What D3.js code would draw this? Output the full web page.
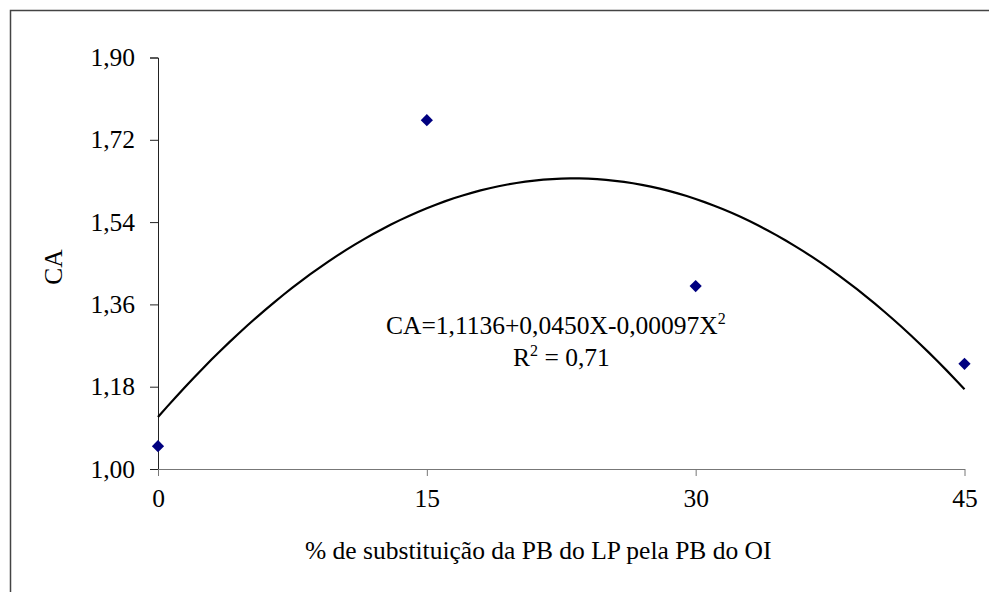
<!DOCTYPE html>
<html>
<head>
<meta charset="utf-8">
<script src="https://cdn.jsdelivr.net/npm/d3@7"></script>
<style>
  body { margin: 0; background: #fff; font-family: "Times New Roman", serif; }
  svg text { font-family: "Times New Roman", "Liberation Serif", serif !important; }
</style>
</head>
<body>
<div id="wrap"></div>
<script>
// observed points
var doses = [0, 15, 30, 45];
var caValues = [1.05, 1.763, 1.40, 1.23];
var yTicks = [1.00, 1.18, 1.36, 1.54, 1.72, 1.90];
var xTicks = [0, 15, 30, 45];
// quadratic trend shown on the chart: CA = b0 + b1 X + b2 X^2
var coef = [1.1136, 0.0450, -0.00097];

var fs = 25.5;

var svg = d3.select("#wrap").append("svg")
    .attr("width", 989)
    .attr("height", 592)
    .style("display", "block");

// outer frame (runs off the right and bottom edges)
svg.append("rect")
    .attr("x", 10.5).attr("y", 10.5)
    .attr("width", 1000).attr("height", 700)
    .attr("fill", "none").attr("stroke", "#444").attr("stroke-width", 1.5);

var x = d3.scaleLinear().domain([0, 45]).range([158, 964.5]);
var y = d3.scaleLinear().domain([1.00, 1.90]).range([469, 57.5]);

var fmt = function(d) { return d3.format(".2f")(d).replace(".", ","); };

// y axis
var yAxis = svg.append("g")
    .attr("transform", "translate(" + x(0) + ",0)")
    .call(d3.axisLeft(y).tickValues(yTicks).tickFormat(fmt).tickSize(8).tickPadding(15))
    .attr("font-family", "Times New Roman")
    .attr("font-size", fs);
yAxis.select(".domain").attr("stroke", "#222");
yAxis.selectAll(".tick line").attr("stroke", "#222");
yAxis.selectAll("text").attr("fill", "#000");

// x axis
var xAxis = svg.append("g")
    .attr("transform", "translate(0," + y(1.00) + ")")
    .call(d3.axisBottom(x).tickValues(xTicks).tickFormat(d3.format("d")).tickSize(7).tickSizeOuter(0).tickPadding(13))
    .attr("font-family", "Times New Roman")
    .attr("font-size", fs);
xAxis.select(".domain").attr("stroke", "#777");
xAxis.selectAll(".tick line").attr("stroke", "#777");
xAxis.selectAll("text").attr("fill", "#000");

// trend curve
var curveX = d3.range(0, 45.01, 0.5);
var line = d3.line()
    .x(function(d) { return x(d); })
    .y(function(d) { return y(coef[0] + coef[1] * d + coef[2] * d * d); });
svg.append("path")
    .datum(curveX)
    .attr("d", line)
    .attr("fill", "none")
    .attr("stroke", "#000")
    .attr("stroke-width", 2.2);

// points
svg.selectAll(".pt")
    .data(doses)
    .enter().append("path")
    .attr("class", "pt")
    .attr("d", d3.symbol().type(d3.symbolDiamond2).size(95))
    .attr("transform", function(d, i) { return "translate(" + x(d) + "," + y(caValues[i]) + ")"; })
    .attr("fill", "#000080");

// axis titles
svg.append("text")
    .attr("transform", "translate(62,267) rotate(-90)")
    .attr("text-anchor", "middle")
    .attr("font-family", "Times New Roman")
    .attr("font-size", fs)
    .text("CA");

svg.append("text")
    .attr("x", 305).attr("y", 559)
    .attr("font-family", "Times New Roman")
    .attr("font-size", fs)
    .text("% de substituição da PB do LP pela PB do OI");

// equation
var eq = svg.append("text")
    .attr("x", 386).attr("y", 334)
    .attr("font-family", "Times New Roman")
    .attr("font-size", fs);
eq.append("tspan").text("CA=1,1136+0,0450X-0,00097X");
eq.append("tspan").attr("dy", -10).attr("font-size", 16).text("2");

var r2 = svg.append("text")
    .attr("x", 513).attr("y", 366)
    .attr("font-family", "Times New Roman")
    .attr("font-size", fs);
r2.append("tspan").text("R");
r2.append("tspan").attr("dy", -10).attr("font-size", 16).text("2");
r2.append("tspan").attr("dy", 10).text(" = 0,71");
</script>
</body>
</html>
